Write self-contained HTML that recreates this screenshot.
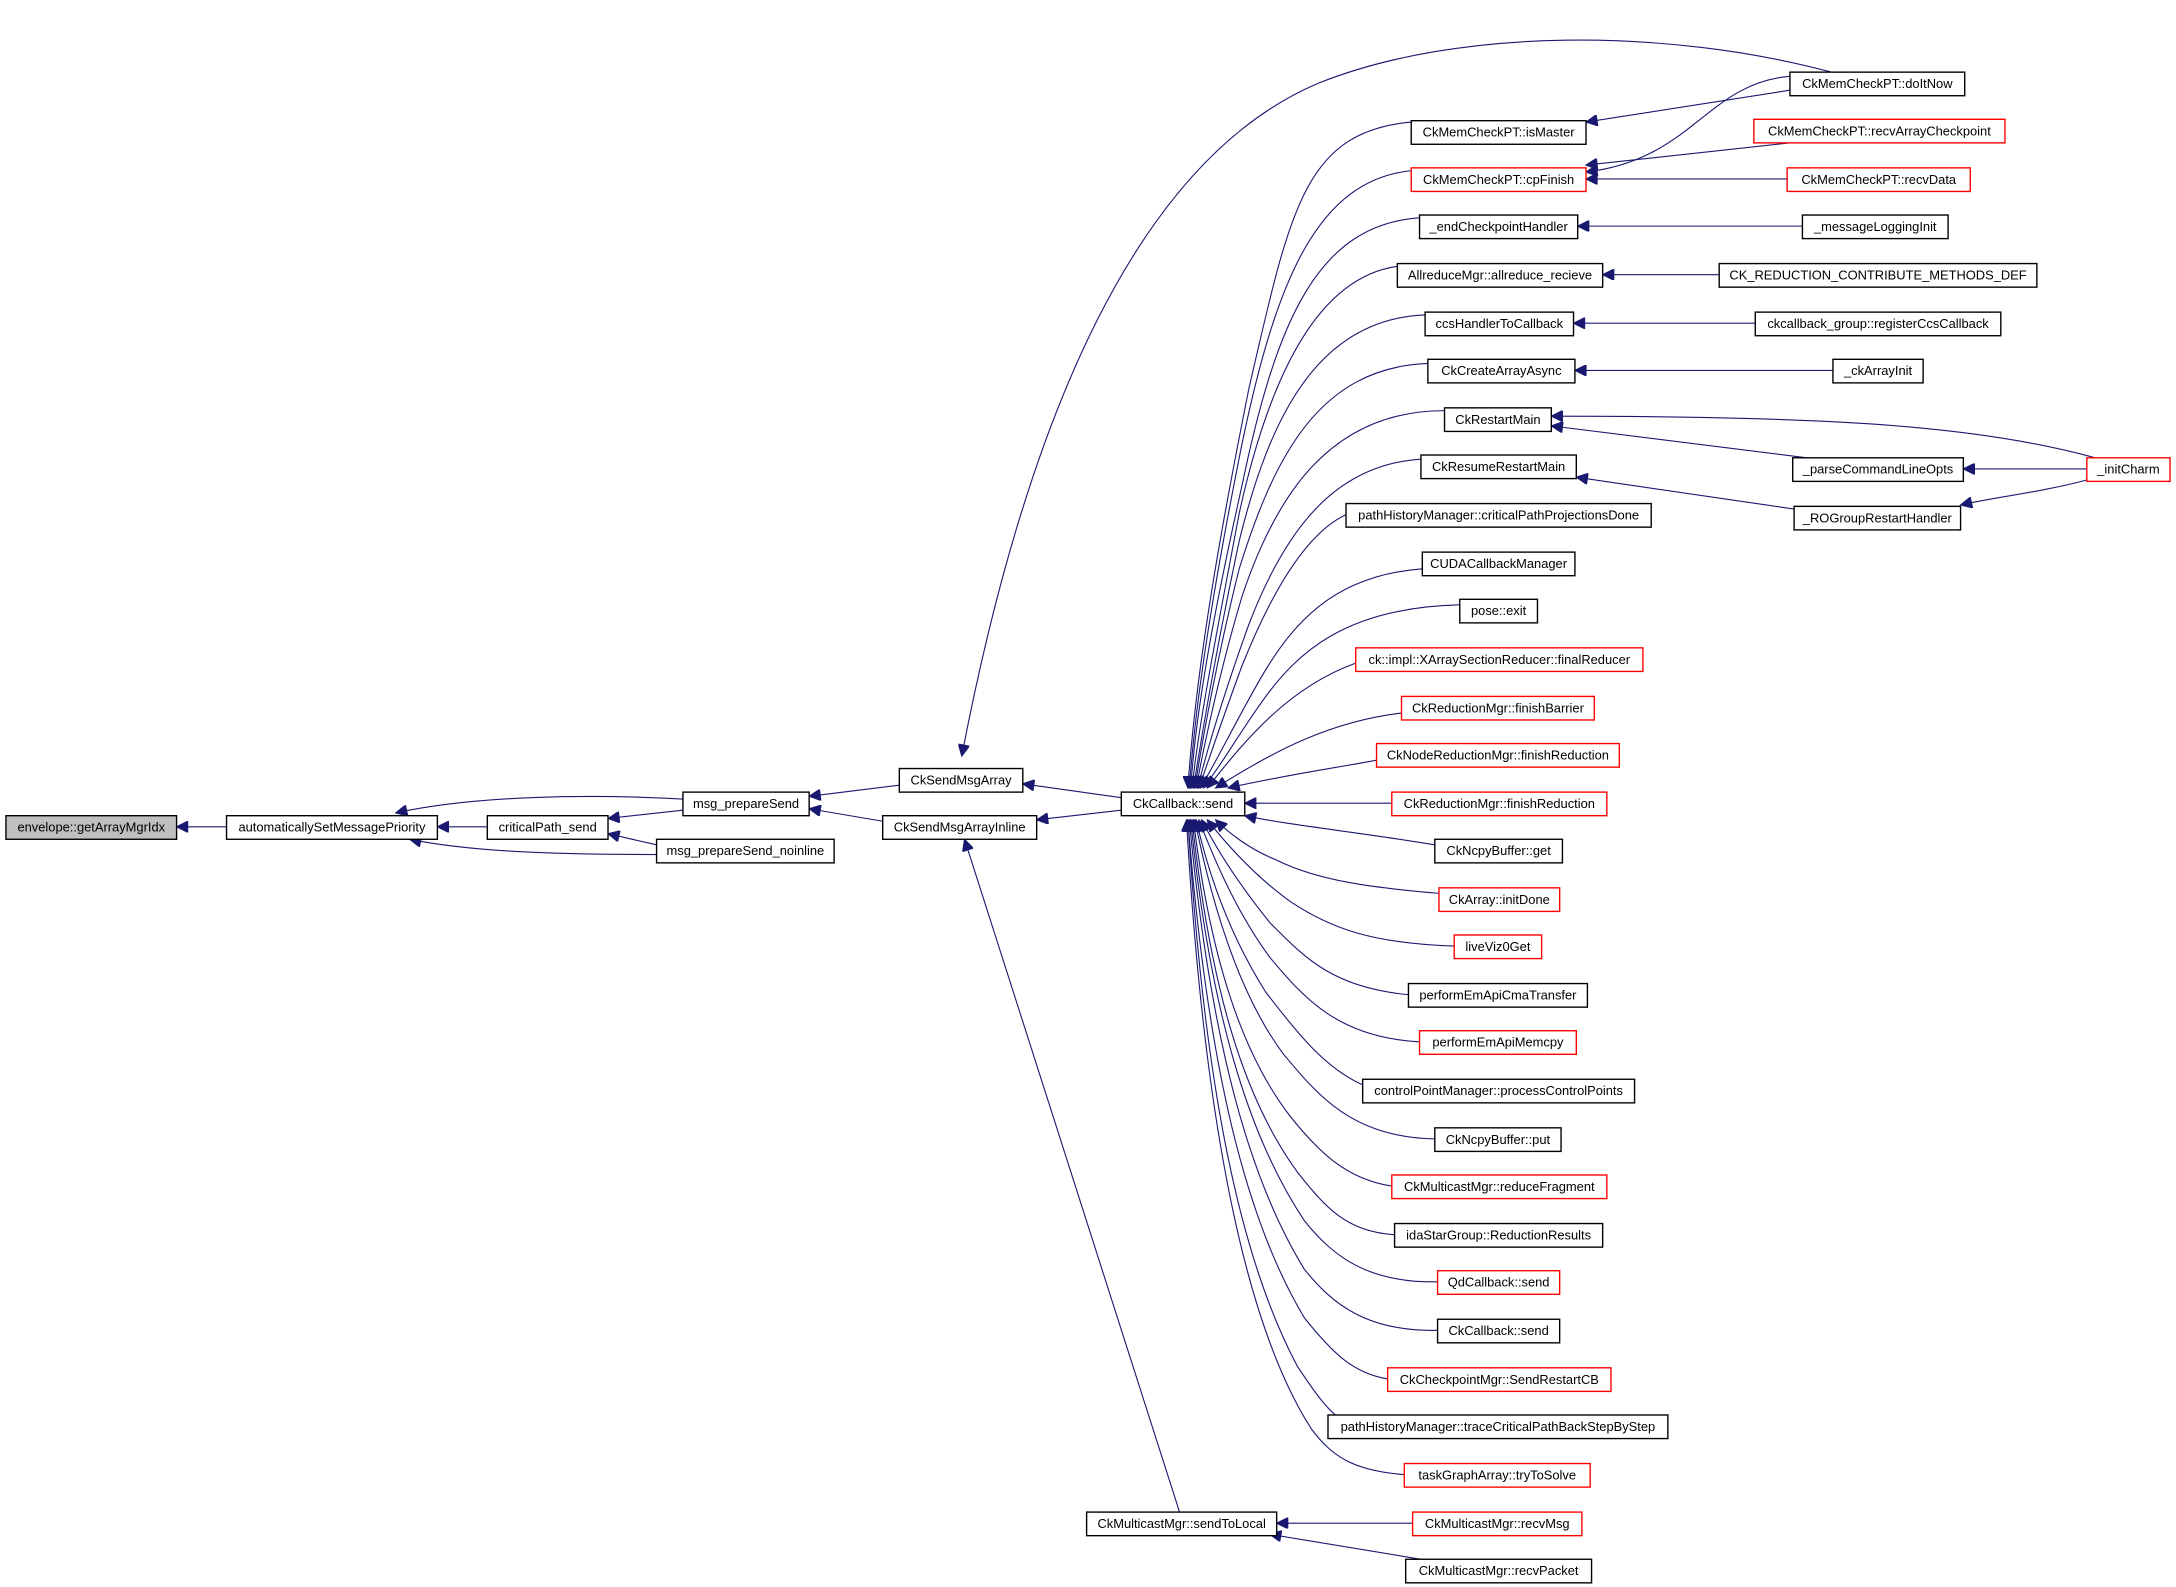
<!DOCTYPE html>
<html><head><meta charset="utf-8"><style>
html,body{margin:0;padding:0;background:#fff;}
svg{display:block;}
text{font-family:"Liberation Sans",sans-serif;font-size:9.3px;fill:#000;text-anchor:middle;}
.b{fill:#fff;stroke:#000;stroke-width:1;}
.r{fill:#fff;stroke:#f00;stroke-width:1;}
.e{fill:none;stroke:#191970;stroke-width:0.8;}
</style></head><body>
<svg width="2176" height="1587" viewBox="0 0 1568 1144" xmlns="http://www.w3.org/2000/svg">
<defs><marker id="a" viewBox="0 0 10 10" refX="10" refY="5" markerWidth="10" markerHeight="8" markerUnits="userSpaceOnUse" orient="auto"><path d="M0,0 L10,5 L0,10 z" fill="#191970" stroke="#191970"/></marker></defs>
<g class="e" marker-end="url(#a)">
<path d="M163,596 L127,596"/>
<path d="M351,596 L315,596"/>
<path d="M492,576 C420,572 340,574 285,586"/>
<path d="M492,584 L438,590"/>
<path d="M473,609 L438,601"/>
<path d="M473,616 C400,616 340,614 295,605"/>
<path d="M648,566 L583,574"/>
<path d="M636,592 L583,583"/>
<path d="M808,575 L737,565"/>
<path d="M808,584 L747,591"/>
<path d="M1320,52 C1200,20 1050,20 950,60 C820,115 740,300 693,545"/>
<path d="M850,1090 L695,605"/>
<path d="M1290,65 L1143,88"/>
<path d="M1290,55 C1230,60 1220,115 1143,124"/>
<path d="M1290,103 L1143,119"/>
<path d="M1288,129 L1143,129"/>
<path d="M1299,163 L1137,163"/>
<path d="M1239,198 L1155,198"/>
<path d="M1265,233 L1134,233"/>
<path d="M1321,267 L1135,267"/>
<path d="M1510,330 C1420,305 1300,300 1118,300"/>
<path d="M1310,331 L1118,307"/>
<path d="M1504,338 L1415,338"/>
<path d="M1300,368 L1136,344"/>
<path d="M1504,346 C1470,355 1440,358 1413,364"/>
<path d="M1018,1098 L920,1098"/>
<path d="M1030,1125 L915,1106"/>
<path d="M1017,88 C940,95 930,150 900,280 C880,380 862,480 856,568"/>
<path d="M1017,123 C950,130 920,200 895,320 C875,420 862,500 857,568"/>
<path d="M1023,157 C950,162 920,230 895,350 C875,440 862,510 858,568"/>
<path d="M1007,192 C950,200 915,270 893,370 C878,450 864,520 859,568"/>
<path d="M1027,227 C950,230 915,300 893,390 C878,460 866,530 860,568"/>
<path d="M1029,262 C950,265 918,330 893,410 C878,470 867,530 861,568"/>
<path d="M1041,296 C960,296 920,355 895,430 C880,480 868,535 862,568"/>
<path d="M1024,331 C960,335 925,385 900,450 C882,500 870,540 863,568"/>
<path d="M970,371 C940,385 915,430 895,480 C882,515 872,545 864,568"/>
<path d="M1025,410 C960,415 930,450 905,495 C888,525 876,550 865,568"/>
<path d="M1052,436 C970,438 935,470 910,505 C892,530 880,552 867,568"/>
<path d="M977,478 C930,495 900,530 870,568"/>
<path d="M1010,514 C960,520 920,540 876,568"/>
<path d="M992,548 C960,554 930,558 885,568"/>
<path d="M1003,579 L897,579"/>
<path d="M1034,609 C980,600 930,595 897,588"/>
<path d="M1037,644 C990,640 950,635 920,620 C900,612 885,600 876,591"/>
<path d="M1048,682 C990,680 960,670 930,650 C905,632 885,610 870,591"/>
<path d="M1015,717 C960,712 940,690 915,665 C895,640 878,615 866,591"/>
<path d="M1023,751 C965,748 940,720 915,690 C893,660 877,625 864,591"/>
<path d="M982,782 C955,770 935,745 912,715 C890,680 873,640 862,591"/>
<path d="M1034,821 C975,820 950,790 925,760 C895,720 875,660 861,591"/>
<path d="M1003,855 C970,850 950,830 930,805 C895,760 872,690 860,591"/>
<path d="M1005,890 C970,888 955,870 935,845 C895,790 872,710 859,591"/>
<path d="M1036,924 C985,925 960,905 940,880 C900,820 872,730 858,591"/>
<path d="M1036,959 C985,960 960,940 940,915 C900,850 872,750 857,591"/>
<path d="M1000,994 C975,990 960,975 940,950 C898,880 870,770 856,591"/>
<path d="M965,1022 C955,1015 945,1000 935,985 C895,910 868,790 856,591"/>
<path d="M1012,1063 C975,1060 960,1050 945,1030 C900,960 868,820 855,591"/>
</g>
<rect x="4" y="588" width="123" height="17" fill="#bfbfbf" stroke="#000"/><text x="65.5" y="599.5">envelope::getArrayMgrIdx</text>
<rect class="b" x="163" y="588" width="152" height="17"/><text x="239" y="599.5">automaticallySetMessagePriority</text>
<rect class="b" x="351" y="588" width="87" height="17"/><text x="394.5" y="599.5">criticalPath_send</text>
<rect class="b" x="492" y="571" width="91" height="17"/><text x="537.5" y="582.5">msg_prepareSend</text>
<rect class="b" x="473" y="605" width="128" height="17"/><text x="537" y="616.5">msg_prepareSend_noinline</text>
<rect class="b" x="648" y="554" width="89" height="17"/><text x="692.5" y="565.5">CkSendMsgArray</text>
<rect class="b" x="636" y="588" width="111" height="17"/><text x="691.5" y="599.5">CkSendMsgArrayInline</text>
<rect class="b" x="808" y="571" width="89" height="17"/><text x="852.5" y="582.5">CkCallback::send</text>
<rect class="b" x="783" y="1090" width="137" height="17"/><text x="851.5" y="1101.5">CkMulticastMgr::sendToLocal</text>
<rect class="b" x="1017" y="87" width="126" height="17"/><text x="1080" y="98.5">CkMemCheckPT::isMaster</text>
<rect class="r" x="1017" y="121" width="126" height="17"/><text x="1080" y="132.5">CkMemCheckPT::cpFinish</text>
<rect class="b" x="1023" y="155" width="114" height="17"/><text x="1080" y="166.5">_endCheckpointHandler</text>
<rect class="b" x="1007" y="190" width="148" height="17"/><text x="1081" y="201.5">AllreduceMgr::allreduce_recieve</text>
<rect class="b" x="1027" y="225" width="107" height="17"/><text x="1080.5" y="236.5">ccsHandlerToCallback</text>
<rect class="b" x="1029" y="259" width="106" height="17"/><text x="1082" y="270.5">CkCreateArrayAsync</text>
<rect class="b" x="1041" y="294" width="77" height="17"/><text x="1079.5" y="305.5">CkRestartMain</text>
<rect class="b" x="1024" y="328" width="112" height="17"/><text x="1080" y="339.5">CkResumeRestartMain</text>
<rect class="b" x="970" y="363" width="220" height="17"/><text x="1080" y="374.5">pathHistoryManager::criticalPathProjectionsDone</text>
<rect class="b" x="1025" y="398" width="110" height="17"/><text x="1080" y="409.5">CUDACallbackManager</text>
<rect class="b" x="1052" y="432" width="56" height="17"/><text x="1080" y="443.5">pose::exit</text>
<rect class="r" x="977" y="467" width="207" height="17"/><text x="1080.5" y="478.5">ck::impl::XArraySectionReducer::finalReducer</text>
<rect class="r" x="1010" y="502" width="139" height="17"/><text x="1079.5" y="513.5">CkReductionMgr::finishBarrier</text>
<rect class="r" x="992" y="536" width="175" height="17"/><text x="1079.5" y="547.5">CkNodeReductionMgr::finishReduction</text>
<rect class="r" x="1003" y="571" width="155" height="17"/><text x="1080.5" y="582.5">CkReductionMgr::finishReduction</text>
<rect class="b" x="1034" y="605" width="92" height="17"/><text x="1080" y="616.5">CkNcpyBuffer::get</text>
<rect class="r" x="1037" y="640" width="87" height="17"/><text x="1080.5" y="651.5">CkArray::initDone</text>
<rect class="r" x="1048" y="674" width="63" height="17"/><text x="1079.5" y="685.5">liveViz0Get</text>
<rect class="b" x="1015" y="709" width="129" height="17"/><text x="1079.5" y="720.5">performEmApiCmaTransfer</text>
<rect class="r" x="1023" y="743" width="113" height="17"/><text x="1079.5" y="754.5">performEmApiMemcpy</text>
<rect class="b" x="982" y="778" width="196" height="17"/><text x="1080" y="789.5">controlPointManager::processControlPoints</text>
<rect class="b" x="1034" y="813" width="91" height="17"/><text x="1079.5" y="824.5">CkNcpyBuffer::put</text>
<rect class="r" x="1003" y="847" width="155" height="17"/><text x="1080.5" y="858.5">CkMulticastMgr::reduceFragment</text>
<rect class="b" x="1005" y="882" width="150" height="17"/><text x="1080" y="893.5">idaStarGroup::ReductionResults</text>
<rect class="r" x="1036" y="916" width="88" height="17"/><text x="1080" y="927.5">QdCallback::send</text>
<rect class="b" x="1036" y="951" width="88" height="17"/><text x="1080" y="962.5">CkCallback::send</text>
<rect class="r" x="1000" y="986" width="161" height="17"/><text x="1080.5" y="997.5">CkCheckpointMgr::SendRestartCB</text>
<rect class="b" x="957" y="1020" width="245" height="17"/><text x="1079.5" y="1031.5">pathHistoryManager::traceCriticalPathBackStepByStep</text>
<rect class="r" x="1012" y="1055" width="134" height="17"/><text x="1079" y="1066.5">taskGraphArray::tryToSolve</text>
<rect class="r" x="1018" y="1090" width="122" height="17"/><text x="1079" y="1101.5">CkMulticastMgr::recvMsg</text>
<rect class="b" x="1013" y="1124" width="134" height="17"/><text x="1080" y="1135.5">CkMulticastMgr::recvPacket</text>
<rect class="b" x="1290" y="52" width="126" height="17"/><text x="1353" y="63.5">CkMemCheckPT::doItNow</text>
<rect class="r" x="1264" y="86" width="181" height="17"/><text x="1354.5" y="97.5">CkMemCheckPT::recvArrayCheckpoint</text>
<rect class="r" x="1288" y="121" width="132" height="17"/><text x="1354" y="132.5">CkMemCheckPT::recvData</text>
<rect class="b" x="1299" y="155" width="105" height="17"/><text x="1351.5" y="166.5">_messageLoggingInit</text>
<rect class="b" x="1239" y="190" width="229" height="17"/><text x="1353.5" y="201.5">CK_REDUCTION_CONTRIBUTE_METHODS_DEF</text>
<rect class="b" x="1265" y="225" width="177" height="17"/><text x="1353.5" y="236.5">ckcallback_group::registerCcsCallback</text>
<rect class="b" x="1321" y="259" width="65" height="17"/><text x="1353.5" y="270.5">_ckArrayInit</text>
<rect class="b" x="1292" y="330" width="123" height="17"/><text x="1353.5" y="341.5">_parseCommandLineOpts</text>
<rect class="b" x="1293" y="365" width="120" height="17"/><text x="1353" y="376.5">_ROGroupRestartHandler</text>
<rect class="r" x="1504" y="330" width="60" height="17"/><text x="1534" y="341.5">_initCharm</text>
</svg>
</body></html>
